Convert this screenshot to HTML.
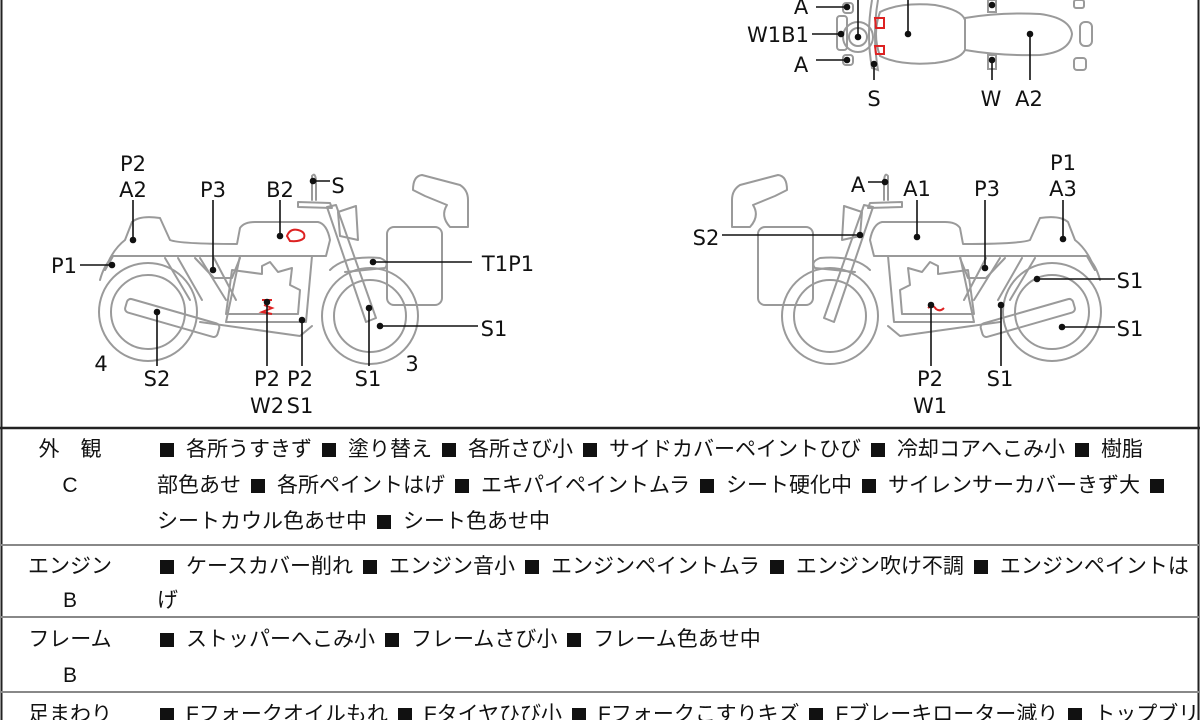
<!DOCTYPE html>
<html><head><meta charset="utf-8"><style>
html,body{margin:0;padding:0;background:#fff;}
#w{position:relative;width:1200px;height:720px;overflow:hidden;background:#fff;}
svg{position:absolute;left:0;top:0;}
.t{position:absolute;font-family:"Liberation Sans","Noto Sans CJK JP",sans-serif;font-size:21px;color:#111;line-height:36px;white-space:nowrap;}
.lab{position:absolute;left:0;width:140px;text-align:center;}
.txt{position:absolute;left:157px;width:1040px;}
.b{display:inline-block;width:14px;height:14px;background:#111;margin:0 12px 0 10px;vertical-align:-1px;}
.b0{margin-left:3px;}
.hl{position:absolute;left:0;width:1200px;height:2px;background:#888;}
</style></head><body><div id="w">
<svg width="1200" height="720" viewBox="0 0 1200 720">
<defs>
<g id="bike" fill="none" stroke="#9a9a9a" stroke-width="2" stroke-linejoin="round" stroke-linecap="round">
 <circle cx="148" cy="312" r="49"/><circle cx="148" cy="312" r="37"/>
 <circle cx="370" cy="316" r="48"/><circle cx="370" cy="316" r="36"/>
 <path d="M105 270 Q112 250 125 240 L132 222 Q140 215 160 218 L170 240 Q180 244 237 244 L240 228 Q244 222 255 222 L318 222 Q327 224 330 240 L326 256 L113 256 Z"/>
 <path d="M105 270 L113 256 M100 280 Q104 265 112 258"/>
 <path d="M240 256 L226 322 L306 322 L312 256"/>
 <path d="M232 270 L226 314 L298 314 L300 290 L290 285 L292 268 L278 272 L270 262 L262 266 L262 274 Z"/>
 <path d="M165 258 L190 300 M178 258 L202 300 M200 258 L226 300 M214 258 L236 300"/>
 <path d="M195 258 L214 278 L232 278 L240 258"/>
 <rect x="128" y="298" width="96" height="14" rx="4" transform="rotate(16 128 298)"/>
 <path d="M200 322 L300 336 L312 326"/>
 <path d="M327 207 L336 205 L376 318 L366 322 Z"/>
 <path d="M298 202 L330 203 L332 208 L298 207 Z"/>
 <path d="M312 200 L312 176 Q315 172 316 180 L316 200"/>
 <path d="M338 212 L356 206 L358 240 L340 236 Z"/>
 <path d="M330 270 Q345 255 380 258 Q390 262 385 268 L345 272"/>
 <path d="M413 190 Q413 176 422 175 L460 185 Q468 190 468 200 L468 227 L450 227 Q440 216 447 205 L425 196 Z"/>
 <rect x="387" y="227" width="55" height="78" rx="7"/>
</g>
</defs>
<use href="#bike"/>
<use href="#bike" transform="translate(1200 0) scale(-1 1)"/>
<g fill="none" stroke="#9a9a9a" stroke-width="2">
 <path d="M880 12 Q900 2 935 5 Q962 10 965 20 L965 50 Q960 60 935 63 Q900 66 880 56 Q872 34 880 12 Z"/>
 <path d="M965 18 Q1000 12 1040 14 Q1070 18 1072 34 Q1070 52 1040 55 Q1000 56 965 50 Z"/>
 <rect x="1080" y="22" width="12" height="24" rx="5"/>
 <rect x="1074" y="0" width="10" height="8" rx="2"/><rect x="1074" y="58" width="12" height="12" rx="3"/>
 <rect x="837" y="16" width="10" height="34" rx="3"/>
 <rect x="843" y="3" width="10" height="10" rx="3"/><rect x="843" y="55" width="10" height="10" rx="3"/>
 <circle cx="858" cy="37" r="15"/><circle cx="858" cy="37" r="9"/>
 <path d="M872 0 Q866 35 872 68 L878 70 Q872 35 878 0"/>
 <rect x="988" y="0" width="8" height="12"/><rect x="988" y="55" width="8" height="14"/>
</g>
<g fill="none" stroke="#d22" stroke-width="2">
 <path d="M875 18 L884 18 L884 28 L876 28 Z"/><path d="M875 46 L884 46 L884 54 L876 54 Z"/>
 <path d="M287 236 Q290 228 298 230 Q306 232 304 238 Q300 242 290 241 Z"/>
 <path d="M262 300 L272 300 M264 305 L272 308 L262 312 L272 314"/>
 <path d="M928 308 Q933 304 936 309 Q940 312 944 308"/>
</g>
<g stroke="#111" stroke-width="1.6" fill="#111">
 <line x1="133" y1="200" x2="133" y2="240"/><circle cx="133" cy="240" r="2.5"/>
 <line x1="213" y1="200" x2="213" y2="270"/><circle cx="213" cy="270" r="2.5"/>
 <line x1="280" y1="200" x2="280" y2="236"/><circle cx="280" cy="236" r="2.5"/>
 <line x1="313" y1="181" x2="330" y2="181"/><circle cx="313" cy="181" r="2.5"/>
 <line x1="80" y1="265" x2="112" y2="265"/><circle cx="112" cy="265" r="2.5"/>
 <line x1="373" y1="262" x2="472" y2="262"/><circle cx="373" cy="262" r="2.5"/>
 <line x1="380" y1="326" x2="478" y2="326"/><circle cx="380" cy="326" r="2.5"/>
 <line x1="157" y1="312" x2="157" y2="366"/><circle cx="157" cy="312" r="2.5"/>
 <line x1="267" y1="302" x2="267" y2="366"/><circle cx="267" cy="302" r="2.5"/>
 <line x1="302" y1="320" x2="302" y2="366"/><circle cx="302" cy="320" r="2.5"/>
 <line x1="369" y1="308" x2="369" y2="366"/><circle cx="369" cy="308" r="2.5"/>
 <line x1="868" y1="182" x2="885" y2="182"/><circle cx="885" cy="182" r="2.5"/>
 <line x1="917" y1="200" x2="917" y2="237"/><circle cx="917" cy="237" r="2.5"/>
 <line x1="985" y1="200" x2="985" y2="268"/><circle cx="985" cy="268" r="2.5"/>
 <line x1="1063" y1="200" x2="1063" y2="239"/><circle cx="1063" cy="239" r="2.5"/>
 <line x1="722" y1="235" x2="860" y2="235"/><circle cx="860" cy="235" r="2.5"/>
 <line x1="1037" y1="279" x2="1115" y2="279"/><circle cx="1037" cy="279" r="2.5"/>
 <line x1="1062" y1="327" x2="1115" y2="327"/><circle cx="1062" cy="327" r="2.5"/>
 <line x1="931" y1="305" x2="931" y2="366"/><circle cx="931" cy="305" r="2.5"/>
 <line x1="1001" y1="305" x2="1001" y2="366"/><circle cx="1001" cy="305" r="2.5"/>
 <line x1="816" y1="7" x2="847" y2="7"/><circle cx="847" cy="7" r="2.5"/>
 <line x1="812" y1="34" x2="841" y2="34"/><circle cx="841" cy="34" r="2.5"/>
 <line x1="816" y1="60" x2="847" y2="60"/><circle cx="847" cy="60" r="2.5"/>
 <line x1="858" y1="0" x2="858" y2="37"/><circle cx="858" cy="37" r="2.5"/>
 <line x1="874" y1="64" x2="874" y2="80"/><circle cx="874" cy="64" r="2.5"/>
 <line x1="908" y1="0" x2="908" y2="34"/><circle cx="908" cy="34" r="2.5"/>
 <line x1="992" y1="60" x2="992" y2="80"/><circle cx="992" cy="60" r="2.5"/><circle cx="992" cy="5" r="2.5"/>
 <line x1="1030" y1="34" x2="1030" y2="80"/><circle cx="1030" cy="34" r="2.5"/>
</g>
<g font-family="DejaVu Sans, sans-serif" font-size="21" fill="#111" text-anchor="middle">
 <text x="133" y="171">P2</text><text x="133" y="197">A2</text>
 <text x="213" y="197">P3</text><text x="280" y="197">B2</text>
 <text x="338" y="193">S</text><text x="64" y="273">P1</text>
 <text x="508" y="271">T1P1</text><text x="494" y="336">S1</text>
 <text x="101" y="371">4</text><text x="157" y="386">S2</text>
 <text x="267" y="386">P2</text><text x="267" y="413">W2</text>
 <text x="300" y="386">P2</text><text x="300" y="413">S1</text>
 <text x="368" y="386">S1</text><text x="412" y="371">3</text>
 <text x="858" y="192">A</text><text x="917" y="196">A1</text>
 <text x="987" y="196">P3</text><text x="1063" y="170">P1</text><text x="1063" y="196">A3</text>
 <text x="706" y="245">S2</text><text x="1130" y="288">S1</text><text x="1130" y="336">S1</text>
 <text x="930" y="386">P2</text><text x="930" y="413">W1</text>
 <text x="1000" y="386">S1</text>
 <text x="801" y="14">A</text><text x="778" y="42">W1B1</text><text x="801" y="72">A</text>
 <text x="874" y="106">S</text><text x="991" y="106">W</text><text x="1029" y="106">A2</text>
</g>
<line x1="1.5" y1="0" x2="1.5" y2="720" stroke="#222" stroke-width="2"/>
<line x1="1198.5" y1="0" x2="1198.5" y2="720" stroke="#222" stroke-width="2"/>
<line x1="0" y1="428" x2="1200" y2="428" stroke="#222" stroke-width="2.5"/>
</svg>
<div class="hl" style="top:544px"></div>
<div class="hl" style="top:616px"></div>
<div class="hl" style="top:691px"></div>
<div class="t lab" style="top:432px">外　観<br>C</div>
<div class="t txt" style="top:432px"><span class="b b0"></span>各所うすきず<span class="b"></span>塗り替え<span class="b"></span>各所さび小<span class="b"></span>サイドカバーペイントひび<span class="b"></span>冷却コアへこみ小<span class="b"></span>樹脂<br>部色あせ<span class="b"></span>各所ペイントはげ<span class="b"></span>エキパイペイントムラ<span class="b"></span>シート硬化中<span class="b"></span>サイレンサーカバーきず大<span class="b"></span><br>シートカウル色あせ中<span class="b"></span>シート色あせ中</div>
<div class="t lab" style="top:550px;line-height:34px">エンジン<br>B</div>
<div class="t txt" style="top:550px;line-height:34px"><span class="b b0"></span>ケースカバー削れ<span class="b"></span>エンジン音小<span class="b"></span>エンジンペイントムラ<span class="b"></span>エンジン吹け不調<span class="b"></span>エンジンペイントは<br>げ</div>
<div class="t lab" style="top:622px">フレーム<br>B</div>
<div class="t txt" style="top:622px"><span class="b b0"></span>ストッパーへこみ小<span class="b"></span>フレームさび小<span class="b"></span>フレーム色あせ中</div>
<div class="t lab" style="top:697px">足まわり</div>
<div class="t txt" style="top:697px"><span class="b b0"></span>Fフォークオイルもれ<span class="b"></span>Fタイヤひび小<span class="b"></span>Fフォークこすりキズ<span class="b"></span>Fブレーキローター減り<span class="b"></span>トップブリッジ</div>
</div></body></html>
